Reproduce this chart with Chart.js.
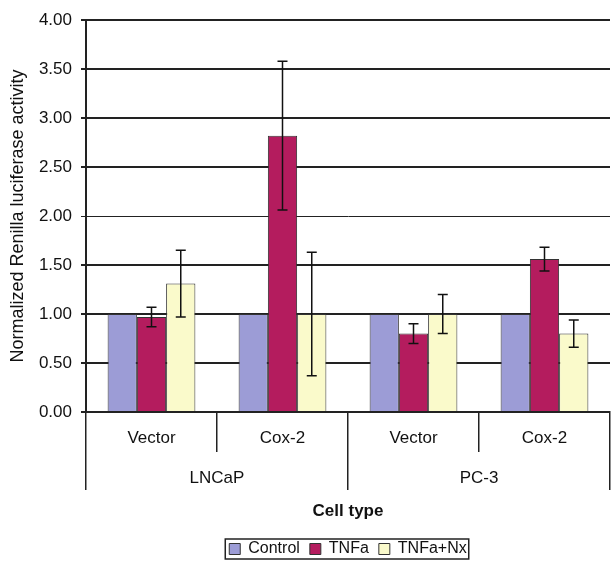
<!DOCTYPE html>
<html>
<head>
<meta charset="utf-8">
<script src="https://cdn.jsdelivr.net/npm/chart.js@4"></script>
<style>
  body { margin: 0; background: #fff; }
</style>
</head>
<body>
<canvas id="barChart" width="611" height="579"></canvas>
<script>
// sub categories and the cell line each one belongs to
const subLabels = ["Vector", "Cox-2", "Vector", "Cox-2"];
const groupLabels = ["LNCaP", "PC-3"];
const seriesNames = ["Control", "TNFa", "TNFa+Nx"];

const controlValues = [1.0, 1.0, 1.0, 1.0];
const tnfaValues = [0.97, 2.82, 0.8, 1.56];
const tnfaNxValues = [1.31, 1.0, 1.0, 0.8];

// error bars (+/-)
const tnfaErrors = [0.1, 0.76, 0.1, 0.12];
const tnfaNxErrors = [0.34, 0.63, 0.2, 0.14];

const yTicks = [0, 0.5, 1, 1.5, 2, 2.5, 3, 3.5, 4];

const FONT = "'Liberation Sans', Arial, sans-serif";

const errorBars = {
  id: "errorBars",
  afterDatasetsDraw(chart) {
    const ctx = chart.ctx;
    const y = chart.scales.y;
    ctx.save();
    ctx.strokeStyle = "#111";
    ctx.lineWidth = 1.5;
    chart.data.datasets.forEach((ds, i) => {
      if (!ds.errors) return;
      chart.getDatasetMeta(i).data.forEach((bar, j) => {
        const e = ds.errors[j];
        const v = ds.data[j];
        const top = y.getPixelForValue(v + e);
        const bot = y.getPixelForValue(v - e);
        ctx.beginPath();
        ctx.moveTo(bar.x, top);
        ctx.lineTo(bar.x, bot);
        ctx.moveTo(bar.x - 5, top);
        ctx.lineTo(bar.x + 5, top);
        ctx.moveTo(bar.x - 5, bot);
        ctx.lineTo(bar.x + 5, bot);
        ctx.stroke();
      });
    });
    ctx.restore();
  },
};

// box around the legend
const legendBox = {
  id: "legendBox",
  afterDraw(chart) {
    const boxes = chart.legend.legendHitBoxes;
    if (!boxes || !boxes.length) return;
    const left = Math.min(...boxes.map((b) => b.left)) - 4;
    const right = Math.max(...boxes.map((b) => b.left + b.width)) + 2;
    const top = Math.min(...boxes.map((b) => b.top)) - 2;
    const bottom = Math.max(...boxes.map((b) => b.top + b.height)) + 2;
    const ctx = chart.ctx;
    ctx.save();
    ctx.strokeStyle = "#222";
    ctx.lineWidth = 1.5;
    ctx.strokeRect(left, top, right - left, bottom - top);
    ctx.restore();
  },
};

new Chart(document.getElementById("barChart"), {
  type: "bar",
  data: {
    labels: subLabels,
    datasets: [
      {
        label: seriesNames[0],
        data: controlValues,
        backgroundColor: "#9c9cd6",
        borderColor: "#333",
        borderWidth: 1,
      },
      {
        label: seriesNames[1],
        data: tnfaValues,
        errors: tnfaErrors,
        backgroundColor: "#b41c5e",
        borderColor: "#333",
        borderWidth: 1,
      },
      {
        label: seriesNames[2],
        data: tnfaNxValues,
        errors: tnfaNxErrors,
        backgroundColor: "#fafacb",
        borderColor: "#333",
        borderWidth: 1,
      },
    ],
  },
  options: {
    responsive: false,
    animation: false,
    layout: { padding: { top: 20, right: 1, bottom: 12, left: 0 } },
    datasets: {
      bar: { categoryPercentage: 0.67, barPercentage: 1.0 },
    },
    scales: {
      y: {
        min: 0,
        max: 4,
        afterBuildTicks(scale) {
          scale.ticks = yTicks.map((v) => ({ value: v }));
        },
        afterFit(scale) {
          scale.width = 86;
        },
        ticks: {
          color: "#111",
          font: { family: FONT, size: 17 },
          padding: 9,
          callback: (v) => Number(v).toFixed(2),
        },
        grid: {
          color: "#222",
          lineWidth: (c) => (c.tick && c.tick.value === 2 ? 1 : 2),
          tickLength: 5,
        },
        border: { color: "#222", width: 2 },
        title: {
          display: true,
          text: "Normalized Renilla luciferase activity",
          color: "#111",
          font: { family: FONT, size: 18 },
          padding: { top: 7, bottom: 0 },
        },
      },
      x: {
        grid: {
          offset: true,
          drawOnChartArea: false,
          color: "#222",
          lineWidth: 1.5,
          tickLength: 40,
        },
        border: { color: "#222", width: 2 },
        afterFit(scale) {
          scale.height = 40;
        },
        ticks: {
          color: "#111",
          font: { family: FONT, size: 17 },
          padding: -24,
          maxRotation: 0,
        },
      },
      x2: {
        type: "category",
        position: "bottom",
        labels: groupLabels,
        offset: true,
        grid: {
          offset: true,
          drawOnChartArea: false,
          color: "#222",
          lineWidth: 1.5,
          tickLength: 38,
        },
        border: { display: false },
        afterFit(scale) {
          scale.height = 79;
        },
        ticks: {
          color: "#111",
          font: { family: FONT, size: 17 },
          padding: -22,
          maxRotation: 0,
        },
        title: {
          display: true,
          text: "Cell type",
          color: "#111",
          font: { family: FONT, size: 17, weight: "bold" },
          padding: { top: 0, bottom: 9 },
        },
      },
    },
    plugins: {
      legend: {
        position: "bottom",
        fullSize: false,
        labels: {
          color: "#111",
          font: { family: FONT, size: 16 },
          boxWidth: 11,
          boxHeight: 11,
          padding: 10,
        },
      },
      tooltip: { enabled: false },
    },
  },
  plugins: [errorBars, legendBox],
});
</script>
</body>
</html>
